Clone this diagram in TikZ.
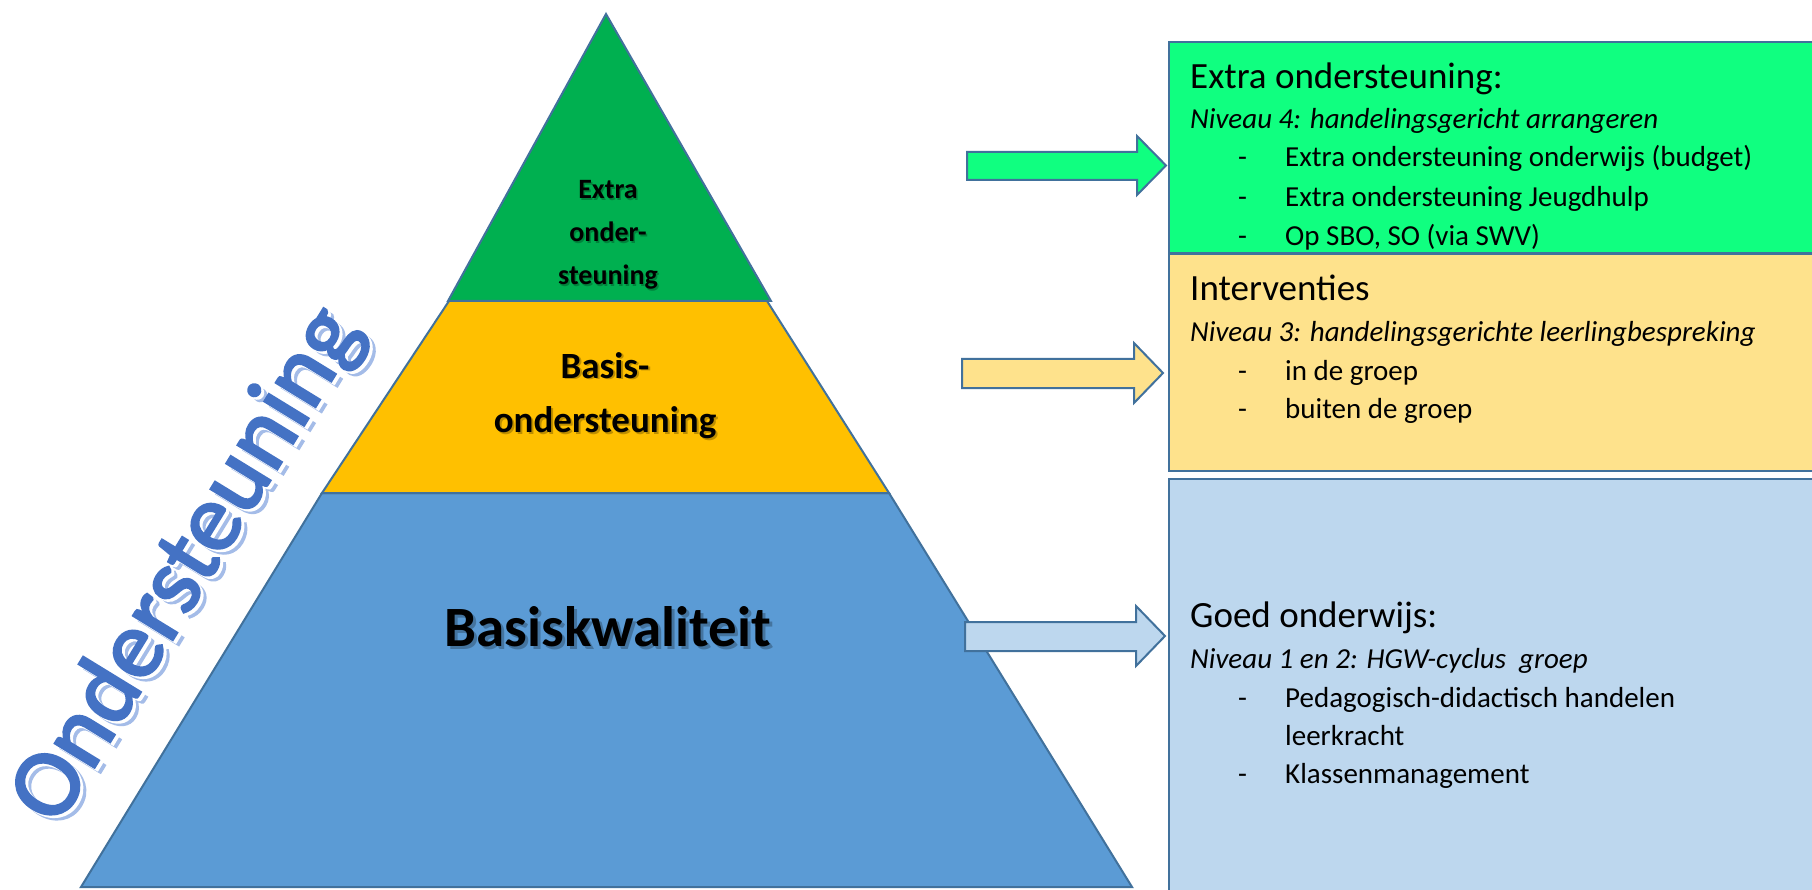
\documentclass[tikz,border=0pt]{standalone}
\usepackage{fontspec}
\setmainfont{Carlito}
\newfontfamily\wordfont[FakeBold=2.5]{Carlito}
\definecolor{edge}{HTML}{41719C}
\definecolor{pgreen}{HTML}{00B050}
\definecolor{pyellow}{HTML}{FFC000}
\definecolor{pblue}{HTML}{5B9BD5}
\definecolor{bgreen}{RGB}{16,255,128}
\definecolor{byellow}{RGB}{254,226,140}
\definecolor{bblue}{HTML}{BDD7EE}
\definecolor{wordblue}{HTML}{4472C4}
\definecolor{wordshadow}{HTML}{A4BCE8}
\tikzset{
  layer/.style={draw=edge, line width=2pt, line join=miter},
  panel/.style={draw=edge, line width=2.5pt},
  fatarrow/.style={draw=edge, line width=2pt, line join=miter},
  txt/.style={anchor=base west, inner sep=0pt, font=\fontsize{29}{35}\selectfont},
  ttl/.style={anchor=base west, inner sep=0pt, font=\fontsize{37}{44}\selectfont},
  sub/.style={anchor=base west, inner sep=0pt, font=\fontsize{29}{35}\selectfont\itshape},
  lbl/.style={anchor=base, inner sep=0pt, font=\bfseries\fontsize{#1}{#1}\selectfont},
  lblshadow/.style={lbl=#1, text=black, opacity=0.25},
  word/.style={anchor=base, inner sep=0pt, rotate=58.5, font=\wordfont\fontsize{97}{97}\selectfont},
}
\begin{document}
\begin{tikzpicture}[x=1pt,y=1pt]
\useasboundingbox (0,0) rectangle (1812,-890);
\fill[white] (0,0) rectangle (1812,-890);

% pyramid
\draw[layer, fill=pblue] (322,-493) -- (889,-493) -- (1132,-887) -- (81,-887) -- cycle;
\draw[layer, fill=pyellow] (449,-301) -- (767,-301) -- (889,-493) -- (322,-493) -- cycle;
\draw[layer, fill=pgreen] (606,-14) -- (771,-301) -- (448,-301) -- cycle;

% pyramid labels (shadow + text)
\foreach \t/\yy [count=\i] in {Extra/199, onder-/242, steuning/285}{
  \node[lblshadow=28] (es\i) at (609.5,-\yy-1.5) {\t};
  \node[lbl=28] (e\i) at (608,-\yy) {\t};
}
\node[lblshadow=37] (bs1) at (607,-380) {Basis-};
\node[lbl=37] (b1) at (605,-378) {Basis-};
\node[lblshadow=37] (bs2) at (607,-434) {ondersteuning};
\node[lbl=37] (b2) at (605,-432) {ondersteuning};
\node[lblshadow=57] (ks) at (611,-649) {Basiskwaliteit};
\node[lbl=57] (k) at (608,-646) {Basiskwaliteit};

% rotated word
\node[word, text=wordshadow] (ws) at (216,-584) {Ondersteuning};
\node[word, text=white] (ww) at (213,-581.5) {Ondersteuning};
\node[word, text=wordblue] (w) at (210,-579) {Ondersteuning};

% panels
\draw[panel, fill=bblue] (1169,-479) rectangle (1830,-900);
\draw[panel, fill=byellow] (1169,-254) rectangle (1830,-471);
\draw[panel, fill=bgreen] (1169,-42) rectangle (1830,-253);

% arrows
\draw[fatarrow, fill=bgreen] (967,-152) -- (1137,-152) -- (1137,-136) -- (1166,-165.5)
  -- (1137,-195) -- (1137,-180) -- (967,-180) -- cycle;
\draw[fatarrow, fill=byellow] (962,-359) -- (1134,-359) -- (1134,-343) -- (1163,-373)
  -- (1134,-403) -- (1134,-388) -- (962,-388) -- cycle;
\draw[fatarrow, fill=bblue] (965,-622) -- (1136,-622) -- (1136,-606) -- (1165,-636)
  -- (1136,-666) -- (1136,-651) -- (965,-651) -- cycle;

% green panel text
\node[ttl] (g0) at (1190,-89) {Extra ondersteuning:};
\node[sub] (g1) at (1190,-129) {Niveau 4: handelingsgericht arrangeren};
\node[txt] (gd1) at (1238,-167) {-};
\node[txt] (g2) at (1285,-167) {Extra ondersteuning onderwijs (budget)};
\node[txt] (gd2) at (1238,-207) {-};
\node[txt] (g3) at (1285,-207) {Extra ondersteuning Jeugdhulp};
\node[txt] (gd3) at (1238,-246) {-};
\node[txt] (g4) at (1285,-246) {Op SBO, SO (via SWV)};

% yellow panel text
\node[ttl] (y0) at (1190,-301) {Interventies};
\node[sub] (y1) at (1190,-342) {Niveau 3: handelingsgerichte leerlingbespreking};
\node[txt] (yd1) at (1238,-381) {-};
\node[txt] (y2) at (1285,-381) {in de groep};
\node[txt] (yd2) at (1238,-418) {-};
\node[txt] (y3) at (1285,-418) {buiten de groep};

% blue panel text
\node[ttl] (u0) at (1190,-627) {Goed onderwijs:};
\node[sub] (u1) at (1190,-668) {Niveau 1 en 2: HGW-cyclus\ \ groep};
\node[txt] (ud1) at (1238,-707) {-};
\node[txt] (u2) at (1285,-707) {Pedagogisch-didactisch handelen};
\node[txt] (u3) at (1285,-745) {leerkracht};
\node[txt] (ud2) at (1238,-783) {-};
\node[txt] (u4) at (1285,-783) {Klassenmanagement};
\end{tikzpicture}
\end{document}
